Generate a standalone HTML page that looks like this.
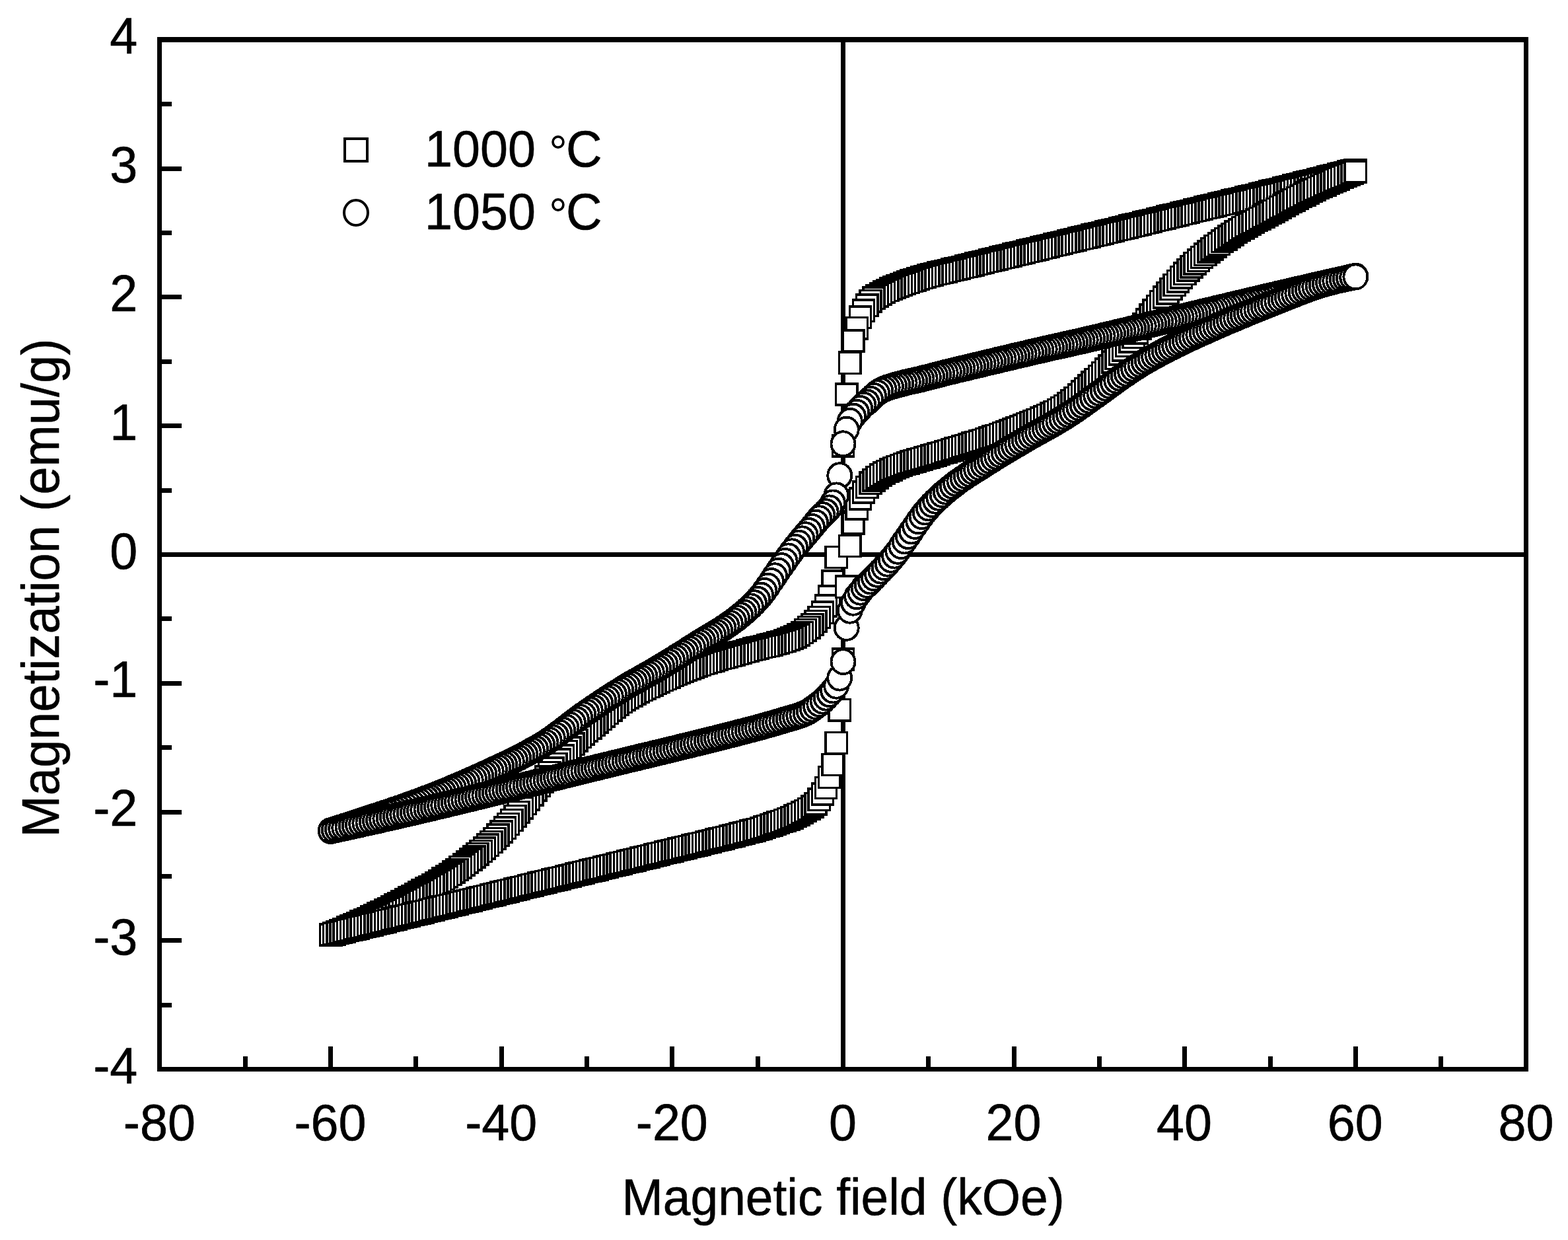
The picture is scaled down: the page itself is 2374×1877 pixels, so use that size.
<!DOCTYPE html>
<html lang="en"><head><meta charset="utf-8"><title>Magnetization vs. magnetic field</title>
<style>
html,body{margin:0;padding:0;background:#fff}
body{width:2374px;height:1877px;overflow:hidden}
svg{display:block}
text{font-family:"Liberation Sans",sans-serif;font-size:75.5px;fill:#000;stroke:#000;stroke-width:.6px;stroke-linejoin:round}
.ax{fill:#000;shape-rendering:crispEdges}
.mk{fill:#fff;stroke:#000;stroke-width:3.5}
.mc{fill:#fff;stroke:#000;stroke-width:3.9}
</style></head><body>
<svg width="2374" height="1877" viewBox="0 0 2374 1877" role="img" aria-label="Magnetization versus magnetic field hysteresis loops for samples sintered at 1000 and 1050 degrees Celsius">
<rect width="2374" height="1877" fill="#fff"/>
<defs>
<rect id="q" x="-16.15" y="-16.15" width="32.3" height="32.3"/>
<ellipse id="c" rx="18" ry="18.5"/>
</defs>
<g class="ax">
<rect x="238" y="56" width="2076" height="8"/>
<rect x="238" y="1615" width="2076" height="7"/>
<rect x="238" y="56" width="7" height="1566"/>
<rect x="2307" y="56" width="7" height="1566"/>
<rect x="1273" y="56" width="7" height="1566"/>
<rect x="238" y="836" width="2076" height="7"/>
<rect x="245" y="1518" width="15" height="7"/>
<rect x="245" y="1420" width="30" height="7"/>
<rect x="245" y="1323" width="15" height="7"/>
<rect x="245" y="1226" width="30" height="7"/>
<rect x="245" y="1128" width="15" height="7"/>
<rect x="245" y="1031" width="30" height="7"/>
<rect x="245" y="933" width="15" height="7"/>
<rect x="245" y="739" width="15" height="7"/>
<rect x="245" y="641" width="30" height="7"/>
<rect x="245" y="544" width="15" height="7"/>
<rect x="245" y="446" width="30" height="7"/>
<rect x="245" y="349" width="15" height="7"/>
<rect x="245" y="252" width="30" height="7"/>
<rect x="245" y="154" width="15" height="7"/>
<rect x="368" y="1599" width="7" height="16"/>
<rect x="497" y="1584" width="7" height="31"/>
<rect x="626" y="1599" width="7" height="16"/>
<rect x="756" y="1584" width="7" height="31"/>
<rect x="885" y="1599" width="7" height="16"/>
<rect x="1014" y="1584" width="7" height="31"/>
<rect x="1144" y="1599" width="7" height="16"/>
<rect x="1402" y="1599" width="7" height="16"/>
<rect x="1532" y="1584" width="7" height="31"/>
<rect x="1661" y="1599" width="7" height="16"/>
<rect x="1790" y="1584" width="7" height="31"/>
<rect x="1920" y="1599" width="7" height="16"/>
<rect x="2049" y="1584" width="7" height="31"/>
<rect x="2178" y="1599" width="7" height="16"/>
</g>
<text transform="translate(208.3 81.3) scale(1 1.04)" text-anchor="end">4</text>
<text transform="translate(208.3 276.1) scale(1 1.04)" text-anchor="end">3</text>
<text transform="translate(208.3 470.9) scale(1 1.04)" text-anchor="end">2</text>
<text transform="translate(208.3 665.7) scale(1 1.04)" text-anchor="end">1</text>
<text transform="translate(208.3 860.5) scale(1 1.04)" text-anchor="end">0</text>
<text transform="translate(208.3 1055.3) scale(1 1.04)" text-anchor="end">-1</text>
<text transform="translate(208.3 1250.1) scale(1 1.04)" text-anchor="end">-2</text>
<text transform="translate(208.3 1444.9) scale(1 1.04)" text-anchor="end">-3</text>
<text transform="translate(208.3 1639.7) scale(1 1.04)" text-anchor="end">-4</text>
<text transform="translate(241.4 1726.2) scale(1 1.04)" text-anchor="middle">-80</text>
<text transform="translate(500.0 1726.2) scale(1 1.04)" text-anchor="middle">-60</text>
<text transform="translate(758.7 1726.2) scale(1 1.04)" text-anchor="middle">-40</text>
<text transform="translate(1017.3 1726.2) scale(1 1.04)" text-anchor="middle">-20</text>
<text transform="translate(1275.9 1726.2) scale(1 1.04)" text-anchor="middle">0</text>
<text transform="translate(1534.5 1726.2) scale(1 1.04)" text-anchor="middle">20</text>
<text transform="translate(1793.1 1726.2) scale(1 1.04)" text-anchor="middle">40</text>
<text transform="translate(2051.8 1726.2) scale(1 1.04)" text-anchor="middle">60</text>
<text transform="translate(2310.4 1726.2) scale(1 1.04)" text-anchor="middle">80</text>
<text transform="translate(1276.5 1838.7) scale(1 1.04)" text-anchor="middle" style="font-size:74.9px">Magnetic field (kOe)</text>
<text transform="translate(89.1 890.0) rotate(-90) scale(1 1.04)" text-anchor="middle" style="font-size:75.9px">Magnetization (emu/g)</text>
<rect x="522" y="210" width="34" height="34" fill="#fff" stroke="#000" stroke-width="4" shape-rendering="crispEdges"/>
<ellipse cx="539" cy="322" rx="18" ry="19" fill="#fff" stroke="#000" stroke-width="4"/>
<text transform="translate(643.0 251.9) scale(1 1.04)">1000 <tspan x="188.1" dy="2.8" font-size="70" stroke="none">°</tspan><tspan x="214" dy="-2.8">C</tspan></text>
<text transform="translate(643.0 347.3) scale(1 1.04)">1050 <tspan x="188.1" dy="2.8" font-size="70" stroke="none">°</tspan><tspan x="214" dy="-2.8">C</tspan></text>
<g class="mk" shape-rendering="crispEdges">
<use href="#q" x="2052.4" y="257.4"/>
<use href="#q" x="2047.2" y="258.8"/>
<use href="#q" x="2042" y="260.1"/>
<use href="#q" x="2036.8" y="261.5"/>
<use href="#q" x="2031.7" y="262.8"/>
<use href="#q" x="2026.5" y="264.1"/>
<use href="#q" x="2021.3" y="265.5"/>
<use href="#q" x="2016.2" y="266.8"/>
<use href="#q" x="2011" y="268.2"/>
<use href="#q" x="2005.8" y="269.5"/>
<use href="#q" x="2000.6" y="270.8"/>
<use href="#q" x="1995.5" y="272.1"/>
<use href="#q" x="1990.3" y="273.5"/>
<use href="#q" x="1985.1" y="274.8"/>
<use href="#q" x="1979.9" y="276.1"/>
<use href="#q" x="1974.8" y="277.4"/>
<use href="#q" x="1969.6" y="278.7"/>
<use href="#q" x="1964.4" y="280"/>
<use href="#q" x="1959.3" y="281.3"/>
<use href="#q" x="1954.1" y="282.6"/>
<use href="#q" x="1948.9" y="284"/>
<use href="#q" x="1943.7" y="285.3"/>
<use href="#q" x="1938.6" y="286.5"/>
<use href="#q" x="1933.4" y="287.8"/>
<use href="#q" x="1928.2" y="289.1"/>
<use href="#q" x="1923" y="290.4"/>
<use href="#q" x="1917.9" y="291.7"/>
<use href="#q" x="1912.7" y="293"/>
<use href="#q" x="1907.5" y="294.3"/>
<use href="#q" x="1902.4" y="295.5"/>
<use href="#q" x="1897.2" y="296.8"/>
<use href="#q" x="1892" y="298.1"/>
<use href="#q" x="1886.8" y="299.3"/>
<use href="#q" x="1881.7" y="300.6"/>
<use href="#q" x="1876.5" y="301.8"/>
<use href="#q" x="1871.3" y="303.1"/>
<use href="#q" x="1866.2" y="304.4"/>
<use href="#q" x="1861" y="305.6"/>
<use href="#q" x="1855.8" y="306.9"/>
<use href="#q" x="1850.6" y="308.1"/>
<use href="#q" x="1845.5" y="309.4"/>
<use href="#q" x="1840.3" y="310.6"/>
<use href="#q" x="1835.1" y="311.9"/>
<use href="#q" x="1829.9" y="313.1"/>
<use href="#q" x="1824.8" y="314.4"/>
<use href="#q" x="1819.6" y="315.7"/>
<use href="#q" x="1814.4" y="316.9"/>
<use href="#q" x="1809.3" y="318.2"/>
<use href="#q" x="1804.1" y="319.5"/>
<use href="#q" x="1798.9" y="320.8"/>
<use href="#q" x="1793.7" y="322"/>
<use href="#q" x="1788.6" y="323.3"/>
<use href="#q" x="1783.4" y="324.6"/>
<use href="#q" x="1778.2" y="325.8"/>
<use href="#q" x="1773.1" y="327.1"/>
<use href="#q" x="1767.9" y="328.4"/>
<use href="#q" x="1762.7" y="329.7"/>
<use href="#q" x="1757.5" y="330.9"/>
<use href="#q" x="1752.4" y="332.2"/>
<use href="#q" x="1747.2" y="333.5"/>
<use href="#q" x="1742" y="334.7"/>
<use href="#q" x="1736.8" y="336"/>
<use href="#q" x="1731.7" y="337.3"/>
<use href="#q" x="1726.5" y="338.6"/>
<use href="#q" x="1721.3" y="339.8"/>
<use href="#q" x="1716.2" y="341.1"/>
<use href="#q" x="1711" y="342.4"/>
<use href="#q" x="1705.8" y="343.7"/>
<use href="#q" x="1700.6" y="344.9"/>
<use href="#q" x="1695.5" y="346.2"/>
<use href="#q" x="1690.3" y="347.5"/>
<use href="#q" x="1685.1" y="348.7"/>
<use href="#q" x="1679.9" y="350"/>
<use href="#q" x="1674.8" y="351.3"/>
<use href="#q" x="1669.6" y="352.6"/>
<use href="#q" x="1664.4" y="353.8"/>
<use href="#q" x="1659.3" y="355.1"/>
<use href="#q" x="1654.1" y="356.4"/>
<use href="#q" x="1648.9" y="357.6"/>
<use href="#q" x="1643.7" y="358.9"/>
<use href="#q" x="1638.6" y="360.2"/>
<use href="#q" x="1633.4" y="361.4"/>
<use href="#q" x="1628.2" y="362.7"/>
<use href="#q" x="1623.1" y="364"/>
<use href="#q" x="1617.9" y="365.2"/>
<use href="#q" x="1612.7" y="366.5"/>
<use href="#q" x="1607.5" y="367.7"/>
<use href="#q" x="1602.4" y="369"/>
<use href="#q" x="1597.2" y="370.3"/>
<use href="#q" x="1592" y="371.5"/>
<use href="#q" x="1586.8" y="372.8"/>
<use href="#q" x="1581.7" y="374"/>
<use href="#q" x="1576.5" y="375.3"/>
<use href="#q" x="1571.3" y="376.6"/>
<use href="#q" x="1566.2" y="377.8"/>
<use href="#q" x="1561" y="379.1"/>
<use href="#q" x="1555.8" y="380.3"/>
<use href="#q" x="1550.6" y="381.6"/>
<use href="#q" x="1545.5" y="382.9"/>
<use href="#q" x="1540.3" y="384.1"/>
<use href="#q" x="1535.1" y="385.4"/>
<use href="#q" x="1529.9" y="386.6"/>
<use href="#q" x="1524.8" y="387.9"/>
<use href="#q" x="1519.6" y="389.2"/>
<use href="#q" x="1514.4" y="390.4"/>
<use href="#q" x="1509.3" y="391.7"/>
<use href="#q" x="1504.1" y="393"/>
<use href="#q" x="1498.9" y="394.2"/>
<use href="#q" x="1493.7" y="395.5"/>
<use href="#q" x="1488.6" y="396.8"/>
<use href="#q" x="1483.4" y="398"/>
<use href="#q" x="1478.2" y="399.3"/>
<use href="#q" x="1473.1" y="400.6"/>
<use href="#q" x="1467.9" y="401.8"/>
<use href="#q" x="1462.7" y="403.1"/>
<use href="#q" x="1457.5" y="404.4"/>
<use href="#q" x="1452.4" y="405.6"/>
<use href="#q" x="1447.2" y="406.9"/>
<use href="#q" x="1442" y="408.2"/>
<use href="#q" x="1436.8" y="409.4"/>
<use href="#q" x="1431.7" y="410.7"/>
<use href="#q" x="1426.5" y="411.9"/>
<use href="#q" x="1421.3" y="413.1"/>
<use href="#q" x="1416.2" y="414.4"/>
<use href="#q" x="1411" y="415.7"/>
<use href="#q" x="1405.8" y="417.1"/>
<use href="#q" x="1400.6" y="418.6"/>
<use href="#q" x="1395.5" y="420.2"/>
<use href="#q" x="1390.3" y="421.8"/>
<use href="#q" x="1385.1" y="423.6"/>
<use href="#q" x="1379.9" y="425.3"/>
<use href="#q" x="1374.8" y="427.1"/>
<use href="#q" x="1369.6" y="428.9"/>
<use href="#q" x="1364.4" y="430.7"/>
<use href="#q" x="1359.3" y="432.6"/>
<use href="#q" x="1354.1" y="434.7"/>
<use href="#q" x="1348.9" y="437"/>
<use href="#q" x="1343.7" y="439.4"/>
<use href="#q" x="1338.6" y="442"/>
<use href="#q" x="1333.4" y="444.7"/>
<use href="#q" x="1328.2" y="447.7"/>
<use href="#q" x="1323.1" y="451.3"/>
<use href="#q" x="1317.9" y="455.7"/>
<use href="#q" x="1312.7" y="462.2"/>
<use href="#q" x="1307.5" y="470.3"/>
<use href="#q" x="1302.4" y="480.1"/>
<use href="#q" x="1297.2" y="496.6"/>
<use href="#q" x="1292" y="516.1"/>
<use href="#q" x="1286.8" y="549.2"/>
<use href="#q" x="1281.7" y="597"/>
<use href="#q" x="1276.5" y="674.7"/>
<use href="#q" x="1271.3" y="757.7"/>
<use href="#q" x="1266.2" y="843.4"/>
<use href="#q" x="1261" y="880"/>
<use href="#q" x="1255.8" y="903"/>
<use href="#q" x="1250.6" y="917"/>
<use href="#q" x="1245.5" y="927.2"/>
<use href="#q" x="1240.3" y="934.6"/>
<use href="#q" x="1235.1" y="940.6"/>
<use href="#q" x="1229.9" y="945.5"/>
<use href="#q" x="1224.8" y="949.7"/>
<use href="#q" x="1219.6" y="953.8"/>
<use href="#q" x="1214.4" y="957.6"/>
<use href="#q" x="1209.3" y="961"/>
<use href="#q" x="1204.1" y="963.8"/>
<use href="#q" x="1198.9" y="966"/>
<use href="#q" x="1193.7" y="968"/>
<use href="#q" x="1188.6" y="969.9"/>
<use href="#q" x="1183.4" y="971.5"/>
<use href="#q" x="1178.2" y="973.1"/>
<use href="#q" x="1173.1" y="974.5"/>
<use href="#q" x="1167.9" y="975.9"/>
<use href="#q" x="1162.7" y="977.2"/>
<use href="#q" x="1157.5" y="978.4"/>
<use href="#q" x="1152.4" y="979.6"/>
<use href="#q" x="1147.2" y="980.9"/>
<use href="#q" x="1142" y="982.2"/>
<use href="#q" x="1136.8" y="983.5"/>
<use href="#q" x="1131.7" y="984.9"/>
<use href="#q" x="1126.5" y="986.4"/>
<use href="#q" x="1121.3" y="987.9"/>
<use href="#q" x="1116.2" y="989.3"/>
<use href="#q" x="1111" y="990.8"/>
<use href="#q" x="1105.8" y="992.2"/>
<use href="#q" x="1100.6" y="993.7"/>
<use href="#q" x="1095.5" y="995.2"/>
<use href="#q" x="1090.3" y="996.6"/>
<use href="#q" x="1085.1" y="998.1"/>
<use href="#q" x="1079.9" y="999.7"/>
<use href="#q" x="1074.8" y="1001.2"/>
<use href="#q" x="1069.6" y="1002.8"/>
<use href="#q" x="1064.4" y="1004.5"/>
<use href="#q" x="1059.3" y="1006.2"/>
<use href="#q" x="1054.1" y="1008"/>
<use href="#q" x="1048.9" y="1009.9"/>
<use href="#q" x="1043.7" y="1011.8"/>
<use href="#q" x="1038.6" y="1013.8"/>
<use href="#q" x="1033.4" y="1015.9"/>
<use href="#q" x="1028.2" y="1018.1"/>
<use href="#q" x="1023.1" y="1020.3"/>
<use href="#q" x="1017.9" y="1022.5"/>
<use href="#q" x="1012.7" y="1024.9"/>
<use href="#q" x="1007.5" y="1027.2"/>
<use href="#q" x="1002.4" y="1029.6"/>
<use href="#q" x="997.2" y="1032"/>
<use href="#q" x="992" y="1034.4"/>
<use href="#q" x="986.8" y="1036.8"/>
<use href="#q" x="981.7" y="1039.3"/>
<use href="#q" x="976.5" y="1041.8"/>
<use href="#q" x="971.3" y="1044.4"/>
<use href="#q" x="966.2" y="1047"/>
<use href="#q" x="961" y="1049.8"/>
<use href="#q" x="955.8" y="1052.7"/>
<use href="#q" x="950.6" y="1055.7"/>
<use href="#q" x="945.5" y="1058.9"/>
<use href="#q" x="940.3" y="1062.4"/>
<use href="#q" x="935.1" y="1066.2"/>
<use href="#q" x="929.9" y="1070.4"/>
<use href="#q" x="924.8" y="1074.8"/>
<use href="#q" x="919.6" y="1079.4"/>
<use href="#q" x="914.4" y="1084"/>
<use href="#q" x="909.3" y="1088.6"/>
<use href="#q" x="904.1" y="1093"/>
<use href="#q" x="898.9" y="1097.4"/>
<use href="#q" x="893.7" y="1101.7"/>
<use href="#q" x="888.6" y="1106.1"/>
<use href="#q" x="883.4" y="1110.7"/>
<use href="#q" x="878.2" y="1115.5"/>
<use href="#q" x="873.1" y="1120.7"/>
<use href="#q" x="867.9" y="1126.2"/>
<use href="#q" x="862.7" y="1131.9"/>
<use href="#q" x="857.5" y="1137.8"/>
<use href="#q" x="852.4" y="1144"/>
<use href="#q" x="847.2" y="1150.3"/>
<use href="#q" x="842" y="1156.7"/>
<use href="#q" x="836.8" y="1163.2"/>
<use href="#q" x="831.7" y="1169.7"/>
<use href="#q" x="826.5" y="1176.2"/>
<use href="#q" x="821.3" y="1182.7"/>
<use href="#q" x="816.2" y="1189.2"/>
<use href="#q" x="811" y="1195.9"/>
<use href="#q" x="805.8" y="1202.8"/>
<use href="#q" x="800.6" y="1209.7"/>
<use href="#q" x="795.5" y="1216.5"/>
<use href="#q" x="790.3" y="1223.1"/>
<use href="#q" x="785.1" y="1229.5"/>
<use href="#q" x="779.9" y="1235.6"/>
<use href="#q" x="774.8" y="1241.6"/>
<use href="#q" x="769.6" y="1247.5"/>
<use href="#q" x="764.4" y="1253.3"/>
<use href="#q" x="759.3" y="1258.9"/>
<use href="#q" x="754.1" y="1264.3"/>
<use href="#q" x="748.9" y="1269.5"/>
<use href="#q" x="743.7" y="1274.4"/>
<use href="#q" x="738.6" y="1279.2"/>
<use href="#q" x="733.4" y="1283.9"/>
<use href="#q" x="728.2" y="1288.4"/>
<use href="#q" x="723.1" y="1292.8"/>
<use href="#q" x="717.9" y="1297"/>
<use href="#q" x="712.7" y="1301.1"/>
<use href="#q" x="707.5" y="1305.1"/>
<use href="#q" x="702.4" y="1309"/>
<use href="#q" x="697.2" y="1312.8"/>
<use href="#q" x="692" y="1316.5"/>
<use href="#q" x="686.8" y="1320.1"/>
<use href="#q" x="681.7" y="1323.6"/>
<use href="#q" x="676.5" y="1327"/>
<use href="#q" x="671.3" y="1330.3"/>
<use href="#q" x="666.2" y="1333.4"/>
<use href="#q" x="661" y="1336.5"/>
<use href="#q" x="655.8" y="1339.5"/>
<use href="#q" x="650.6" y="1342.4"/>
<use href="#q" x="645.5" y="1345.2"/>
<use href="#q" x="640.3" y="1348.1"/>
<use href="#q" x="635.1" y="1350.9"/>
<use href="#q" x="630" y="1353.7"/>
<use href="#q" x="624.8" y="1356.5"/>
<use href="#q" x="619.6" y="1359.3"/>
<use href="#q" x="614.4" y="1362"/>
<use href="#q" x="609.3" y="1364.8"/>
<use href="#q" x="604.1" y="1367.5"/>
<use href="#q" x="598.9" y="1370.2"/>
<use href="#q" x="593.7" y="1372.9"/>
<use href="#q" x="588.6" y="1375.5"/>
<use href="#q" x="583.4" y="1378.1"/>
<use href="#q" x="578.2" y="1380.7"/>
<use href="#q" x="573.1" y="1383.2"/>
<use href="#q" x="567.9" y="1385.7"/>
<use href="#q" x="562.7" y="1388.1"/>
<use href="#q" x="557.5" y="1390.5"/>
<use href="#q" x="552.4" y="1392.9"/>
<use href="#q" x="547.2" y="1395.3"/>
<use href="#q" x="542" y="1397.6"/>
<use href="#q" x="536.8" y="1399.9"/>
<use href="#q" x="531.7" y="1402.1"/>
<use href="#q" x="526.5" y="1404.3"/>
<use href="#q" x="521.3" y="1406.5"/>
<use href="#q" x="516.2" y="1408.7"/>
<use href="#q" x="511" y="1410.8"/>
<use href="#q" x="505.8" y="1412.9"/>
<use href="#q" x="500.6" y="1415"/>
<use href="#q" x="500.6" y="1415"/>
<use href="#q" x="505.8" y="1413.7"/>
<use href="#q" x="511" y="1412.4"/>
<use href="#q" x="516.2" y="1411.2"/>
<use href="#q" x="521.3" y="1409.9"/>
<use href="#q" x="526.5" y="1408.6"/>
<use href="#q" x="531.7" y="1407.4"/>
<use href="#q" x="536.8" y="1406.1"/>
<use href="#q" x="542" y="1404.8"/>
<use href="#q" x="547.2" y="1403.6"/>
<use href="#q" x="552.4" y="1402.3"/>
<use href="#q" x="557.5" y="1401"/>
<use href="#q" x="562.7" y="1399.8"/>
<use href="#q" x="567.9" y="1398.5"/>
<use href="#q" x="573.1" y="1397.2"/>
<use href="#q" x="578.2" y="1395.9"/>
<use href="#q" x="583.4" y="1394.7"/>
<use href="#q" x="588.6" y="1393.4"/>
<use href="#q" x="593.7" y="1392.1"/>
<use href="#q" x="598.9" y="1390.9"/>
<use href="#q" x="604.1" y="1389.6"/>
<use href="#q" x="609.3" y="1388.3"/>
<use href="#q" x="614.4" y="1387"/>
<use href="#q" x="619.6" y="1385.8"/>
<use href="#q" x="624.8" y="1384.5"/>
<use href="#q" x="630" y="1383.2"/>
<use href="#q" x="635.1" y="1381.9"/>
<use href="#q" x="640.3" y="1380.7"/>
<use href="#q" x="645.5" y="1379.4"/>
<use href="#q" x="650.6" y="1378.1"/>
<use href="#q" x="655.8" y="1376.8"/>
<use href="#q" x="661" y="1375.6"/>
<use href="#q" x="666.2" y="1374.3"/>
<use href="#q" x="671.3" y="1373"/>
<use href="#q" x="676.5" y="1371.7"/>
<use href="#q" x="681.7" y="1370.4"/>
<use href="#q" x="686.8" y="1369.2"/>
<use href="#q" x="692" y="1367.9"/>
<use href="#q" x="697.2" y="1366.6"/>
<use href="#q" x="702.4" y="1365.3"/>
<use href="#q" x="707.5" y="1364"/>
<use href="#q" x="712.7" y="1362.8"/>
<use href="#q" x="717.9" y="1361.5"/>
<use href="#q" x="723.1" y="1360.2"/>
<use href="#q" x="728.2" y="1358.9"/>
<use href="#q" x="733.4" y="1357.6"/>
<use href="#q" x="738.6" y="1356.4"/>
<use href="#q" x="743.7" y="1355.1"/>
<use href="#q" x="748.9" y="1353.8"/>
<use href="#q" x="754.1" y="1352.5"/>
<use href="#q" x="759.3" y="1351.3"/>
<use href="#q" x="764.4" y="1350"/>
<use href="#q" x="769.6" y="1348.7"/>
<use href="#q" x="774.8" y="1347.4"/>
<use href="#q" x="779.9" y="1346.2"/>
<use href="#q" x="785.1" y="1344.9"/>
<use href="#q" x="790.3" y="1343.6"/>
<use href="#q" x="795.5" y="1342.4"/>
<use href="#q" x="800.6" y="1341.1"/>
<use href="#q" x="805.8" y="1339.8"/>
<use href="#q" x="811" y="1338.6"/>
<use href="#q" x="816.2" y="1337.3"/>
<use href="#q" x="821.3" y="1336"/>
<use href="#q" x="826.5" y="1334.7"/>
<use href="#q" x="831.7" y="1333.5"/>
<use href="#q" x="836.8" y="1332.2"/>
<use href="#q" x="842" y="1330.9"/>
<use href="#q" x="847.2" y="1329.7"/>
<use href="#q" x="852.4" y="1328.4"/>
<use href="#q" x="857.5" y="1327.1"/>
<use href="#q" x="862.7" y="1325.9"/>
<use href="#q" x="867.9" y="1324.6"/>
<use href="#q" x="873.1" y="1323.3"/>
<use href="#q" x="878.2" y="1322.1"/>
<use href="#q" x="883.4" y="1320.8"/>
<use href="#q" x="888.6" y="1319.5"/>
<use href="#q" x="893.7" y="1318.2"/>
<use href="#q" x="898.9" y="1317"/>
<use href="#q" x="904.1" y="1315.7"/>
<use href="#q" x="909.3" y="1314.4"/>
<use href="#q" x="914.4" y="1313.2"/>
<use href="#q" x="919.6" y="1311.9"/>
<use href="#q" x="924.8" y="1310.6"/>
<use href="#q" x="929.9" y="1309.4"/>
<use href="#q" x="935.1" y="1308.1"/>
<use href="#q" x="940.3" y="1306.8"/>
<use href="#q" x="945.5" y="1305.5"/>
<use href="#q" x="950.6" y="1304.3"/>
<use href="#q" x="955.8" y="1303"/>
<use href="#q" x="961" y="1301.7"/>
<use href="#q" x="966.2" y="1300.5"/>
<use href="#q" x="971.3" y="1299.2"/>
<use href="#q" x="976.5" y="1297.9"/>
<use href="#q" x="981.7" y="1296.7"/>
<use href="#q" x="986.8" y="1295.4"/>
<use href="#q" x="992" y="1294.1"/>
<use href="#q" x="997.2" y="1292.8"/>
<use href="#q" x="1002.4" y="1291.6"/>
<use href="#q" x="1007.5" y="1290.3"/>
<use href="#q" x="1012.7" y="1289"/>
<use href="#q" x="1017.9" y="1287.8"/>
<use href="#q" x="1023.1" y="1286.5"/>
<use href="#q" x="1028.2" y="1285.2"/>
<use href="#q" x="1033.4" y="1284"/>
<use href="#q" x="1038.6" y="1282.7"/>
<use href="#q" x="1043.7" y="1281.4"/>
<use href="#q" x="1048.9" y="1280.2"/>
<use href="#q" x="1054.1" y="1278.9"/>
<use href="#q" x="1059.3" y="1277.7"/>
<use href="#q" x="1064.4" y="1276.4"/>
<use href="#q" x="1069.6" y="1275.1"/>
<use href="#q" x="1074.8" y="1273.9"/>
<use href="#q" x="1079.9" y="1272.6"/>
<use href="#q" x="1085.1" y="1271.3"/>
<use href="#q" x="1090.3" y="1270"/>
<use href="#q" x="1095.5" y="1268.8"/>
<use href="#q" x="1100.6" y="1267.5"/>
<use href="#q" x="1105.8" y="1266.2"/>
<use href="#q" x="1111" y="1264.9"/>
<use href="#q" x="1116.2" y="1263.5"/>
<use href="#q" x="1121.3" y="1262.2"/>
<use href="#q" x="1126.5" y="1260.9"/>
<use href="#q" x="1131.7" y="1259.6"/>
<use href="#q" x="1136.8" y="1258.3"/>
<use href="#q" x="1142" y="1256.9"/>
<use href="#q" x="1147.2" y="1255.4"/>
<use href="#q" x="1152.4" y="1253.9"/>
<use href="#q" x="1157.5" y="1252.2"/>
<use href="#q" x="1162.7" y="1250.5"/>
<use href="#q" x="1167.9" y="1248.8"/>
<use href="#q" x="1173.1" y="1247"/>
<use href="#q" x="1178.2" y="1245.3"/>
<use href="#q" x="1183.4" y="1243.5"/>
<use href="#q" x="1188.6" y="1241.7"/>
<use href="#q" x="1193.7" y="1239.8"/>
<use href="#q" x="1198.9" y="1237.7"/>
<use href="#q" x="1204.1" y="1235.3"/>
<use href="#q" x="1209.3" y="1232.8"/>
<use href="#q" x="1214.4" y="1230.1"/>
<use href="#q" x="1219.6" y="1227.5"/>
<use href="#q" x="1224.8" y="1224.4"/>
<use href="#q" x="1229.9" y="1221"/>
<use href="#q" x="1235.1" y="1216.7"/>
<use href="#q" x="1240.3" y="1210.2"/>
<use href="#q" x="1245.5" y="1202"/>
<use href="#q" x="1250.6" y="1192.5"/>
<use href="#q" x="1255.8" y="1176.5"/>
<use href="#q" x="1261" y="1157.4"/>
<use href="#q" x="1266.2" y="1124.5"/>
<use href="#q" x="1271.3" y="1074.8"/>
<use href="#q" x="1276.5" y="998.1"/>
<use href="#q" x="1281.7" y="888.2"/>
<use href="#q" x="1286.8" y="826.6"/>
<use href="#q" x="1292" y="792"/>
<use href="#q" x="1297.2" y="769.8"/>
<use href="#q" x="1302.4" y="755.1"/>
<use href="#q" x="1307.5" y="745"/>
<use href="#q" x="1312.7" y="737.4"/>
<use href="#q" x="1317.9" y="731.2"/>
<use href="#q" x="1323.1" y="726.8"/>
<use href="#q" x="1328.2" y="722.8"/>
<use href="#q" x="1333.4" y="719.3"/>
<use href="#q" x="1338.6" y="716.2"/>
<use href="#q" x="1343.7" y="713.4"/>
<use href="#q" x="1348.9" y="710.9"/>
<use href="#q" x="1354.1" y="708.6"/>
<use href="#q" x="1359.3" y="706.5"/>
<use href="#q" x="1364.4" y="704.5"/>
<use href="#q" x="1369.6" y="702.6"/>
<use href="#q" x="1374.8" y="700.9"/>
<use href="#q" x="1379.9" y="699.2"/>
<use href="#q" x="1385.1" y="697.7"/>
<use href="#q" x="1390.3" y="696.2"/>
<use href="#q" x="1395.5" y="694.7"/>
<use href="#q" x="1400.6" y="693.2"/>
<use href="#q" x="1405.8" y="691.7"/>
<use href="#q" x="1411" y="690.3"/>
<use href="#q" x="1416.2" y="688.8"/>
<use href="#q" x="1421.3" y="687.2"/>
<use href="#q" x="1426.5" y="685.6"/>
<use href="#q" x="1431.7" y="683.9"/>
<use href="#q" x="1436.8" y="682.4"/>
<use href="#q" x="1442" y="680.8"/>
<use href="#q" x="1447.2" y="679.2"/>
<use href="#q" x="1452.4" y="677.6"/>
<use href="#q" x="1457.5" y="676.1"/>
<use href="#q" x="1462.7" y="674.5"/>
<use href="#q" x="1467.9" y="672.9"/>
<use href="#q" x="1473.1" y="671.3"/>
<use href="#q" x="1478.2" y="669.7"/>
<use href="#q" x="1483.4" y="668.1"/>
<use href="#q" x="1488.6" y="666.4"/>
<use href="#q" x="1493.7" y="664.7"/>
<use href="#q" x="1498.9" y="663"/>
<use href="#q" x="1504.1" y="661.2"/>
<use href="#q" x="1509.3" y="659.4"/>
<use href="#q" x="1514.4" y="657.6"/>
<use href="#q" x="1519.6" y="655.8"/>
<use href="#q" x="1524.8" y="653.9"/>
<use href="#q" x="1529.9" y="652"/>
<use href="#q" x="1535.1" y="650.1"/>
<use href="#q" x="1540.3" y="648.1"/>
<use href="#q" x="1545.5" y="646"/>
<use href="#q" x="1550.6" y="644"/>
<use href="#q" x="1555.8" y="641.8"/>
<use href="#q" x="1561" y="639.7"/>
<use href="#q" x="1566.2" y="637.5"/>
<use href="#q" x="1571.3" y="635.4"/>
<use href="#q" x="1576.5" y="633.1"/>
<use href="#q" x="1581.7" y="630.9"/>
<use href="#q" x="1586.8" y="628.5"/>
<use href="#q" x="1592" y="626"/>
<use href="#q" x="1597.2" y="623.4"/>
<use href="#q" x="1602.4" y="620.6"/>
<use href="#q" x="1607.5" y="617.6"/>
<use href="#q" x="1612.7" y="614.4"/>
<use href="#q" x="1617.9" y="610.8"/>
<use href="#q" x="1623.1" y="606.7"/>
<use href="#q" x="1628.2" y="602.4"/>
<use href="#q" x="1633.4" y="597.9"/>
<use href="#q" x="1638.6" y="593.2"/>
<use href="#q" x="1643.7" y="588.6"/>
<use href="#q" x="1648.9" y="583.9"/>
<use href="#q" x="1654.1" y="579.3"/>
<use href="#q" x="1659.3" y="574.5"/>
<use href="#q" x="1664.4" y="569.6"/>
<use href="#q" x="1669.6" y="564.6"/>
<use href="#q" x="1674.8" y="559.3"/>
<use href="#q" x="1679.9" y="553.9"/>
<use href="#q" x="1685.1" y="548.1"/>
<use href="#q" x="1690.3" y="542.2"/>
<use href="#q" x="1695.5" y="536"/>
<use href="#q" x="1700.6" y="529.7"/>
<use href="#q" x="1705.8" y="523.3"/>
<use href="#q" x="1711" y="516.8"/>
<use href="#q" x="1716.2" y="510.2"/>
<use href="#q" x="1721.3" y="503.6"/>
<use href="#q" x="1726.5" y="497"/>
<use href="#q" x="1731.7" y="490.5"/>
<use href="#q" x="1736.8" y="483.9"/>
<use href="#q" x="1742" y="477.1"/>
<use href="#q" x="1747.2" y="470.3"/>
<use href="#q" x="1752.4" y="463.4"/>
<use href="#q" x="1757.5" y="456.6"/>
<use href="#q" x="1762.7" y="450"/>
<use href="#q" x="1767.9" y="443.6"/>
<use href="#q" x="1773.1" y="437.5"/>
<use href="#q" x="1778.2" y="431.5"/>
<use href="#q" x="1783.4" y="425.6"/>
<use href="#q" x="1788.6" y="419.8"/>
<use href="#q" x="1793.7" y="414.2"/>
<use href="#q" x="1798.9" y="408.8"/>
<use href="#q" x="1804.1" y="403.7"/>
<use href="#q" x="1809.3" y="398.8"/>
<use href="#q" x="1814.4" y="394.1"/>
<use href="#q" x="1819.6" y="389.5"/>
<use href="#q" x="1824.8" y="385.2"/>
<use href="#q" x="1829.9" y="381"/>
<use href="#q" x="1835.1" y="376.9"/>
<use href="#q" x="1840.3" y="372.9"/>
<use href="#q" x="1845.5" y="369.1"/>
<use href="#q" x="1850.6" y="365.3"/>
<use href="#q" x="1855.8" y="361.6"/>
<use href="#q" x="1861" y="358.1"/>
<use href="#q" x="1866.2" y="354.6"/>
<use href="#q" x="1871.3" y="351.3"/>
<use href="#q" x="1876.5" y="348"/>
<use href="#q" x="1881.7" y="344.9"/>
<use href="#q" x="1886.8" y="341.9"/>
<use href="#q" x="1892" y="339"/>
<use href="#q" x="1897.2" y="336.2"/>
<use href="#q" x="1902.4" y="333.4"/>
<use href="#q" x="1907.5" y="330.7"/>
<use href="#q" x="1912.7" y="328"/>
<use href="#q" x="1917.9" y="325.2"/>
<use href="#q" x="1923" y="322.4"/>
<use href="#q" x="1928.2" y="319.6"/>
<use href="#q" x="1933.4" y="316.8"/>
<use href="#q" x="1938.6" y="313.9"/>
<use href="#q" x="1943.7" y="311.1"/>
<use href="#q" x="1948.9" y="308.3"/>
<use href="#q" x="1954.1" y="305.5"/>
<use href="#q" x="1959.3" y="302.7"/>
<use href="#q" x="1964.4" y="299.9"/>
<use href="#q" x="1969.6" y="297.2"/>
<use href="#q" x="1974.8" y="294.6"/>
<use href="#q" x="1979.9" y="292"/>
<use href="#q" x="1985.1" y="289.4"/>
<use href="#q" x="1990.3" y="287"/>
<use href="#q" x="1995.5" y="284.5"/>
<use href="#q" x="2000.6" y="282.1"/>
<use href="#q" x="2005.8" y="279.7"/>
<use href="#q" x="2011" y="277.4"/>
<use href="#q" x="2016.2" y="275.1"/>
<use href="#q" x="2021.3" y="272.8"/>
<use href="#q" x="2026.5" y="270.6"/>
<use href="#q" x="2031.7" y="268.4"/>
<use href="#q" x="2036.8" y="266.2"/>
<use href="#q" x="2042" y="264.1"/>
<use href="#q" x="2047.2" y="262"/>
<use href="#q" x="2052.4" y="259.9"/>
</g>
<g class="mc" shape-rendering="crispEdges">
<use href="#c" x="2052.4" y="418.1"/>
<use href="#c" x="2047.2" y="419.3"/>
<use href="#c" x="2042" y="420.5"/>
<use href="#c" x="2036.8" y="421.7"/>
<use href="#c" x="2031.7" y="422.8"/>
<use href="#c" x="2026.5" y="424"/>
<use href="#c" x="2021.3" y="425.2"/>
<use href="#c" x="2016.2" y="426.4"/>
<use href="#c" x="2011" y="427.6"/>
<use href="#c" x="2005.8" y="428.7"/>
<use href="#c" x="2000.6" y="429.9"/>
<use href="#c" x="1995.5" y="431.1"/>
<use href="#c" x="1990.3" y="432.3"/>
<use href="#c" x="1985.1" y="433.5"/>
<use href="#c" x="1979.9" y="434.7"/>
<use href="#c" x="1974.8" y="435.9"/>
<use href="#c" x="1969.6" y="437.1"/>
<use href="#c" x="1964.4" y="438.3"/>
<use href="#c" x="1959.3" y="439.5"/>
<use href="#c" x="1954.1" y="440.7"/>
<use href="#c" x="1948.9" y="441.9"/>
<use href="#c" x="1943.7" y="443.1"/>
<use href="#c" x="1938.6" y="444.3"/>
<use href="#c" x="1933.4" y="445.5"/>
<use href="#c" x="1928.2" y="446.7"/>
<use href="#c" x="1923" y="447.9"/>
<use href="#c" x="1917.9" y="449.1"/>
<use href="#c" x="1912.7" y="450.4"/>
<use href="#c" x="1907.5" y="451.6"/>
<use href="#c" x="1902.4" y="452.8"/>
<use href="#c" x="1897.2" y="454"/>
<use href="#c" x="1892" y="455.2"/>
<use href="#c" x="1886.8" y="456.5"/>
<use href="#c" x="1881.7" y="457.7"/>
<use href="#c" x="1876.5" y="458.9"/>
<use href="#c" x="1871.3" y="460.2"/>
<use href="#c" x="1866.2" y="461.4"/>
<use href="#c" x="1861" y="462.6"/>
<use href="#c" x="1855.8" y="463.9"/>
<use href="#c" x="1850.6" y="465.1"/>
<use href="#c" x="1845.5" y="466.3"/>
<use href="#c" x="1840.3" y="467.6"/>
<use href="#c" x="1835.1" y="468.8"/>
<use href="#c" x="1829.9" y="470.1"/>
<use href="#c" x="1824.8" y="471.3"/>
<use href="#c" x="1819.6" y="472.5"/>
<use href="#c" x="1814.4" y="473.8"/>
<use href="#c" x="1809.3" y="475"/>
<use href="#c" x="1804.1" y="476.2"/>
<use href="#c" x="1798.9" y="477.5"/>
<use href="#c" x="1793.7" y="478.7"/>
<use href="#c" x="1788.6" y="479.9"/>
<use href="#c" x="1783.4" y="481.2"/>
<use href="#c" x="1778.2" y="482.4"/>
<use href="#c" x="1773.1" y="483.7"/>
<use href="#c" x="1767.9" y="484.9"/>
<use href="#c" x="1762.7" y="486.2"/>
<use href="#c" x="1757.5" y="487.4"/>
<use href="#c" x="1752.4" y="488.7"/>
<use href="#c" x="1747.2" y="489.9"/>
<use href="#c" x="1742" y="491.2"/>
<use href="#c" x="1736.8" y="492.4"/>
<use href="#c" x="1731.7" y="493.7"/>
<use href="#c" x="1726.5" y="494.9"/>
<use href="#c" x="1721.3" y="496.2"/>
<use href="#c" x="1716.2" y="497.4"/>
<use href="#c" x="1711" y="498.6"/>
<use href="#c" x="1705.8" y="499.9"/>
<use href="#c" x="1700.6" y="501.1"/>
<use href="#c" x="1695.5" y="502.4"/>
<use href="#c" x="1690.3" y="503.6"/>
<use href="#c" x="1685.1" y="504.8"/>
<use href="#c" x="1679.9" y="506.1"/>
<use href="#c" x="1674.8" y="507.3"/>
<use href="#c" x="1669.6" y="508.5"/>
<use href="#c" x="1664.4" y="509.8"/>
<use href="#c" x="1659.3" y="511"/>
<use href="#c" x="1654.1" y="512.2"/>
<use href="#c" x="1648.9" y="513.4"/>
<use href="#c" x="1643.7" y="514.6"/>
<use href="#c" x="1638.6" y="515.8"/>
<use href="#c" x="1633.4" y="517"/>
<use href="#c" x="1628.2" y="518.1"/>
<use href="#c" x="1623.1" y="519.3"/>
<use href="#c" x="1617.9" y="520.5"/>
<use href="#c" x="1612.7" y="521.6"/>
<use href="#c" x="1607.5" y="522.8"/>
<use href="#c" x="1602.4" y="523.9"/>
<use href="#c" x="1597.2" y="525.1"/>
<use href="#c" x="1592" y="526.2"/>
<use href="#c" x="1586.8" y="527.4"/>
<use href="#c" x="1581.7" y="528.6"/>
<use href="#c" x="1576.5" y="529.8"/>
<use href="#c" x="1571.3" y="530.9"/>
<use href="#c" x="1566.2" y="532.1"/>
<use href="#c" x="1561" y="533.4"/>
<use href="#c" x="1555.8" y="534.6"/>
<use href="#c" x="1550.6" y="535.8"/>
<use href="#c" x="1545.5" y="537"/>
<use href="#c" x="1540.3" y="538.2"/>
<use href="#c" x="1535.1" y="539.4"/>
<use href="#c" x="1529.9" y="540.7"/>
<use href="#c" x="1524.8" y="541.9"/>
<use href="#c" x="1519.6" y="543.1"/>
<use href="#c" x="1514.4" y="544.4"/>
<use href="#c" x="1509.3" y="545.6"/>
<use href="#c" x="1504.1" y="546.8"/>
<use href="#c" x="1498.9" y="548.1"/>
<use href="#c" x="1493.7" y="549.3"/>
<use href="#c" x="1488.6" y="550.6"/>
<use href="#c" x="1483.4" y="551.8"/>
<use href="#c" x="1478.2" y="553"/>
<use href="#c" x="1473.1" y="554.2"/>
<use href="#c" x="1467.9" y="555.5"/>
<use href="#c" x="1462.7" y="556.7"/>
<use href="#c" x="1457.5" y="557.9"/>
<use href="#c" x="1452.4" y="559.2"/>
<use href="#c" x="1447.2" y="560.4"/>
<use href="#c" x="1442" y="561.7"/>
<use href="#c" x="1436.8" y="562.9"/>
<use href="#c" x="1431.7" y="564.2"/>
<use href="#c" x="1426.5" y="565.6"/>
<use href="#c" x="1421.3" y="566.9"/>
<use href="#c" x="1416.2" y="568.2"/>
<use href="#c" x="1411" y="569.6"/>
<use href="#c" x="1405.8" y="570.9"/>
<use href="#c" x="1400.6" y="572.2"/>
<use href="#c" x="1395.5" y="573.5"/>
<use href="#c" x="1390.3" y="574.7"/>
<use href="#c" x="1385.1" y="575.9"/>
<use href="#c" x="1379.9" y="577"/>
<use href="#c" x="1374.8" y="578.2"/>
<use href="#c" x="1369.6" y="579.5"/>
<use href="#c" x="1364.4" y="580.8"/>
<use href="#c" x="1359.3" y="582.2"/>
<use href="#c" x="1354.1" y="583.6"/>
<use href="#c" x="1348.9" y="585.2"/>
<use href="#c" x="1343.7" y="586.9"/>
<use href="#c" x="1338.6" y="588.9"/>
<use href="#c" x="1333.4" y="591.4"/>
<use href="#c" x="1328.2" y="594.8"/>
<use href="#c" x="1323.1" y="599.3"/>
<use href="#c" x="1317.9" y="604.2"/>
<use href="#c" x="1312.7" y="609"/>
<use href="#c" x="1307.5" y="613.1"/>
<use href="#c" x="1302.4" y="618.4"/>
<use href="#c" x="1297.2" y="624.2"/>
<use href="#c" x="1292" y="630.1"/>
<use href="#c" x="1286.8" y="637.3"/>
<use href="#c" x="1281.7" y="650.1"/>
<use href="#c" x="1276.5" y="671.8"/>
<use href="#c" x="1271.3" y="719.7"/>
<use href="#c" x="1266.2" y="749.9"/>
<use href="#c" x="1261" y="761"/>
<use href="#c" x="1255.8" y="768.9"/>
<use href="#c" x="1250.6" y="774.7"/>
<use href="#c" x="1245.5" y="779.6"/>
<use href="#c" x="1240.3" y="784.8"/>
<use href="#c" x="1235.1" y="791.1"/>
<use href="#c" x="1229.9" y="797.5"/>
<use href="#c" x="1224.8" y="803.6"/>
<use href="#c" x="1219.6" y="809.7"/>
<use href="#c" x="1214.4" y="815.8"/>
<use href="#c" x="1209.3" y="822"/>
<use href="#c" x="1204.1" y="828.3"/>
<use href="#c" x="1198.9" y="834.9"/>
<use href="#c" x="1193.7" y="841.9"/>
<use href="#c" x="1188.6" y="849.3"/>
<use href="#c" x="1183.4" y="856.6"/>
<use href="#c" x="1178.2" y="864.1"/>
<use href="#c" x="1173.1" y="871.8"/>
<use href="#c" x="1167.9" y="879.6"/>
<use href="#c" x="1162.7" y="887.2"/>
<use href="#c" x="1157.5" y="894.5"/>
<use href="#c" x="1152.4" y="901.2"/>
<use href="#c" x="1147.2" y="907.3"/>
<use href="#c" x="1142" y="912.7"/>
<use href="#c" x="1136.8" y="917.9"/>
<use href="#c" x="1131.7" y="922.7"/>
<use href="#c" x="1126.5" y="927.2"/>
<use href="#c" x="1121.3" y="931.5"/>
<use href="#c" x="1116.2" y="935.7"/>
<use href="#c" x="1111" y="939.6"/>
<use href="#c" x="1105.8" y="943.5"/>
<use href="#c" x="1100.6" y="947.1"/>
<use href="#c" x="1095.5" y="950.5"/>
<use href="#c" x="1090.3" y="953.9"/>
<use href="#c" x="1085.1" y="957.1"/>
<use href="#c" x="1079.9" y="960.2"/>
<use href="#c" x="1074.8" y="963.3"/>
<use href="#c" x="1069.6" y="966.4"/>
<use href="#c" x="1064.4" y="969.5"/>
<use href="#c" x="1059.3" y="972.7"/>
<use href="#c" x="1054.1" y="975.9"/>
<use href="#c" x="1048.9" y="979.1"/>
<use href="#c" x="1043.7" y="982.4"/>
<use href="#c" x="1038.6" y="985.7"/>
<use href="#c" x="1033.4" y="988.9"/>
<use href="#c" x="1028.2" y="992.2"/>
<use href="#c" x="1023.1" y="995.4"/>
<use href="#c" x="1017.9" y="998.7"/>
<use href="#c" x="1012.7" y="1001.9"/>
<use href="#c" x="1007.5" y="1005.1"/>
<use href="#c" x="1002.4" y="1008.2"/>
<use href="#c" x="997.2" y="1011.3"/>
<use href="#c" x="992" y="1014.4"/>
<use href="#c" x="986.8" y="1017.4"/>
<use href="#c" x="981.7" y="1020.3"/>
<use href="#c" x="976.5" y="1023.2"/>
<use href="#c" x="971.3" y="1026.2"/>
<use href="#c" x="966.2" y="1029.1"/>
<use href="#c" x="961" y="1032"/>
<use href="#c" x="955.8" y="1035"/>
<use href="#c" x="950.6" y="1038"/>
<use href="#c" x="945.5" y="1041.1"/>
<use href="#c" x="940.3" y="1044.3"/>
<use href="#c" x="935.1" y="1047.5"/>
<use href="#c" x="929.9" y="1050.8"/>
<use href="#c" x="924.8" y="1054.1"/>
<use href="#c" x="919.6" y="1057.4"/>
<use href="#c" x="914.4" y="1060.8"/>
<use href="#c" x="909.3" y="1064.2"/>
<use href="#c" x="904.1" y="1067.7"/>
<use href="#c" x="898.9" y="1071.2"/>
<use href="#c" x="893.7" y="1074.7"/>
<use href="#c" x="888.6" y="1078.2"/>
<use href="#c" x="883.4" y="1081.8"/>
<use href="#c" x="878.2" y="1085.6"/>
<use href="#c" x="873.1" y="1089.4"/>
<use href="#c" x="867.9" y="1093.3"/>
<use href="#c" x="862.7" y="1097.3"/>
<use href="#c" x="857.5" y="1101.2"/>
<use href="#c" x="852.4" y="1105.2"/>
<use href="#c" x="847.2" y="1109.1"/>
<use href="#c" x="842" y="1113"/>
<use href="#c" x="836.8" y="1116.7"/>
<use href="#c" x="831.7" y="1120.3"/>
<use href="#c" x="826.5" y="1123.8"/>
<use href="#c" x="821.3" y="1127"/>
<use href="#c" x="816.2" y="1130.1"/>
<use href="#c" x="811" y="1133.1"/>
<use href="#c" x="805.8" y="1136"/>
<use href="#c" x="800.6" y="1138.9"/>
<use href="#c" x="795.5" y="1141.7"/>
<use href="#c" x="790.3" y="1144.4"/>
<use href="#c" x="785.1" y="1147.1"/>
<use href="#c" x="779.9" y="1149.7"/>
<use href="#c" x="774.8" y="1152.3"/>
<use href="#c" x="769.6" y="1154.8"/>
<use href="#c" x="764.4" y="1157.3"/>
<use href="#c" x="759.3" y="1159.7"/>
<use href="#c" x="754.1" y="1162.1"/>
<use href="#c" x="748.9" y="1164.5"/>
<use href="#c" x="743.7" y="1166.9"/>
<use href="#c" x="738.6" y="1169.3"/>
<use href="#c" x="733.4" y="1171.6"/>
<use href="#c" x="728.2" y="1174"/>
<use href="#c" x="723.1" y="1176.3"/>
<use href="#c" x="717.9" y="1178.6"/>
<use href="#c" x="712.7" y="1180.9"/>
<use href="#c" x="707.5" y="1183.2"/>
<use href="#c" x="702.4" y="1185.5"/>
<use href="#c" x="697.2" y="1187.7"/>
<use href="#c" x="692" y="1189.9"/>
<use href="#c" x="686.8" y="1192.1"/>
<use href="#c" x="681.7" y="1194.2"/>
<use href="#c" x="676.5" y="1196.3"/>
<use href="#c" x="671.3" y="1198.5"/>
<use href="#c" x="666.2" y="1200.5"/>
<use href="#c" x="661" y="1202.6"/>
<use href="#c" x="655.8" y="1204.6"/>
<use href="#c" x="650.6" y="1206.7"/>
<use href="#c" x="645.5" y="1208.6"/>
<use href="#c" x="640.3" y="1210.6"/>
<use href="#c" x="635.1" y="1212.6"/>
<use href="#c" x="630" y="1214.5"/>
<use href="#c" x="624.8" y="1216.4"/>
<use href="#c" x="619.6" y="1218.2"/>
<use href="#c" x="614.4" y="1220.1"/>
<use href="#c" x="609.3" y="1221.9"/>
<use href="#c" x="604.1" y="1223.7"/>
<use href="#c" x="598.9" y="1225.5"/>
<use href="#c" x="593.7" y="1227.2"/>
<use href="#c" x="588.6" y="1229"/>
<use href="#c" x="583.4" y="1230.7"/>
<use href="#c" x="578.2" y="1232.4"/>
<use href="#c" x="573.1" y="1234.1"/>
<use href="#c" x="567.9" y="1235.8"/>
<use href="#c" x="562.7" y="1237.5"/>
<use href="#c" x="557.5" y="1239.2"/>
<use href="#c" x="552.4" y="1240.9"/>
<use href="#c" x="547.2" y="1242.6"/>
<use href="#c" x="542" y="1244.3"/>
<use href="#c" x="536.8" y="1246"/>
<use href="#c" x="531.7" y="1247.7"/>
<use href="#c" x="526.5" y="1249.4"/>
<use href="#c" x="521.3" y="1251"/>
<use href="#c" x="516.2" y="1252.7"/>
<use href="#c" x="511" y="1254.3"/>
<use href="#c" x="505.8" y="1255.9"/>
<use href="#c" x="500.6" y="1257.6"/>
<use href="#c" x="500.6" y="1257.6"/>
<use href="#c" x="505.8" y="1256.4"/>
<use href="#c" x="511" y="1255.3"/>
<use href="#c" x="516.2" y="1254.2"/>
<use href="#c" x="521.3" y="1253.1"/>
<use href="#c" x="526.5" y="1251.9"/>
<use href="#c" x="531.7" y="1250.8"/>
<use href="#c" x="536.8" y="1249.6"/>
<use href="#c" x="542" y="1248.5"/>
<use href="#c" x="547.2" y="1247.4"/>
<use href="#c" x="552.4" y="1246.2"/>
<use href="#c" x="557.5" y="1245.1"/>
<use href="#c" x="562.7" y="1243.9"/>
<use href="#c" x="567.9" y="1242.7"/>
<use href="#c" x="573.1" y="1241.6"/>
<use href="#c" x="578.2" y="1240.4"/>
<use href="#c" x="583.4" y="1239.2"/>
<use href="#c" x="588.6" y="1238.1"/>
<use href="#c" x="593.7" y="1236.9"/>
<use href="#c" x="598.9" y="1235.7"/>
<use href="#c" x="604.1" y="1234.5"/>
<use href="#c" x="609.3" y="1233.3"/>
<use href="#c" x="614.4" y="1232.1"/>
<use href="#c" x="619.6" y="1230.9"/>
<use href="#c" x="624.8" y="1229.7"/>
<use href="#c" x="630" y="1228.5"/>
<use href="#c" x="635.1" y="1227.3"/>
<use href="#c" x="640.3" y="1226.1"/>
<use href="#c" x="645.5" y="1224.9"/>
<use href="#c" x="650.6" y="1223.7"/>
<use href="#c" x="655.8" y="1222.5"/>
<use href="#c" x="661" y="1221.2"/>
<use href="#c" x="666.2" y="1220"/>
<use href="#c" x="671.3" y="1218.7"/>
<use href="#c" x="676.5" y="1217.5"/>
<use href="#c" x="681.7" y="1216.3"/>
<use href="#c" x="686.8" y="1215"/>
<use href="#c" x="692" y="1213.8"/>
<use href="#c" x="697.2" y="1212.5"/>
<use href="#c" x="702.4" y="1211.2"/>
<use href="#c" x="707.5" y="1210"/>
<use href="#c" x="712.7" y="1208.7"/>
<use href="#c" x="717.9" y="1207.5"/>
<use href="#c" x="723.1" y="1206.2"/>
<use href="#c" x="728.2" y="1204.9"/>
<use href="#c" x="733.4" y="1203.7"/>
<use href="#c" x="738.6" y="1202.4"/>
<use href="#c" x="743.7" y="1201.2"/>
<use href="#c" x="748.9" y="1199.9"/>
<use href="#c" x="754.1" y="1198.6"/>
<use href="#c" x="759.3" y="1197.4"/>
<use href="#c" x="764.4" y="1196.1"/>
<use href="#c" x="769.6" y="1194.8"/>
<use href="#c" x="774.8" y="1193.6"/>
<use href="#c" x="779.9" y="1192.3"/>
<use href="#c" x="785.1" y="1191"/>
<use href="#c" x="790.3" y="1189.8"/>
<use href="#c" x="795.5" y="1188.5"/>
<use href="#c" x="800.6" y="1187.2"/>
<use href="#c" x="805.8" y="1185.9"/>
<use href="#c" x="811" y="1184.6"/>
<use href="#c" x="816.2" y="1183.4"/>
<use href="#c" x="821.3" y="1182.1"/>
<use href="#c" x="826.5" y="1180.8"/>
<use href="#c" x="831.7" y="1179.5"/>
<use href="#c" x="836.8" y="1178.2"/>
<use href="#c" x="842" y="1177"/>
<use href="#c" x="847.2" y="1175.7"/>
<use href="#c" x="852.4" y="1174.4"/>
<use href="#c" x="857.5" y="1173.1"/>
<use href="#c" x="862.7" y="1171.8"/>
<use href="#c" x="867.9" y="1170.5"/>
<use href="#c" x="873.1" y="1169.3"/>
<use href="#c" x="878.2" y="1168"/>
<use href="#c" x="883.4" y="1166.7"/>
<use href="#c" x="888.6" y="1165.4"/>
<use href="#c" x="893.7" y="1164.2"/>
<use href="#c" x="898.9" y="1162.9"/>
<use href="#c" x="904.1" y="1161.6"/>
<use href="#c" x="909.3" y="1160.4"/>
<use href="#c" x="914.4" y="1159.1"/>
<use href="#c" x="919.6" y="1157.8"/>
<use href="#c" x="924.8" y="1156.6"/>
<use href="#c" x="929.9" y="1155.3"/>
<use href="#c" x="935.1" y="1154.1"/>
<use href="#c" x="940.3" y="1152.8"/>
<use href="#c" x="945.5" y="1151.6"/>
<use href="#c" x="950.6" y="1150.3"/>
<use href="#c" x="955.8" y="1149.1"/>
<use href="#c" x="961" y="1147.8"/>
<use href="#c" x="966.2" y="1146.6"/>
<use href="#c" x="971.3" y="1145.3"/>
<use href="#c" x="976.5" y="1144.1"/>
<use href="#c" x="981.7" y="1142.9"/>
<use href="#c" x="986.8" y="1141.6"/>
<use href="#c" x="992" y="1140.4"/>
<use href="#c" x="997.2" y="1139.1"/>
<use href="#c" x="1002.4" y="1137.8"/>
<use href="#c" x="1007.5" y="1136.6"/>
<use href="#c" x="1012.7" y="1135.3"/>
<use href="#c" x="1017.9" y="1134.1"/>
<use href="#c" x="1023.1" y="1132.8"/>
<use href="#c" x="1028.2" y="1131.5"/>
<use href="#c" x="1033.4" y="1130.3"/>
<use href="#c" x="1038.6" y="1129"/>
<use href="#c" x="1043.7" y="1127.7"/>
<use href="#c" x="1048.9" y="1126.5"/>
<use href="#c" x="1054.1" y="1125.2"/>
<use href="#c" x="1059.3" y="1123.9"/>
<use href="#c" x="1064.4" y="1122.6"/>
<use href="#c" x="1069.6" y="1121.4"/>
<use href="#c" x="1074.8" y="1120.1"/>
<use href="#c" x="1079.9" y="1118.8"/>
<use href="#c" x="1085.1" y="1117.5"/>
<use href="#c" x="1090.3" y="1116.2"/>
<use href="#c" x="1095.5" y="1114.9"/>
<use href="#c" x="1100.6" y="1113.6"/>
<use href="#c" x="1105.8" y="1112.3"/>
<use href="#c" x="1111" y="1111"/>
<use href="#c" x="1116.2" y="1109.6"/>
<use href="#c" x="1121.3" y="1108.3"/>
<use href="#c" x="1126.5" y="1107"/>
<use href="#c" x="1131.7" y="1105.6"/>
<use href="#c" x="1136.8" y="1104.3"/>
<use href="#c" x="1142" y="1102.9"/>
<use href="#c" x="1147.2" y="1101.5"/>
<use href="#c" x="1152.4" y="1100.1"/>
<use href="#c" x="1157.5" y="1098.6"/>
<use href="#c" x="1162.7" y="1097.2"/>
<use href="#c" x="1167.9" y="1095.7"/>
<use href="#c" x="1173.1" y="1094.2"/>
<use href="#c" x="1178.2" y="1092.7"/>
<use href="#c" x="1183.4" y="1091.2"/>
<use href="#c" x="1188.6" y="1089.6"/>
<use href="#c" x="1193.7" y="1088.1"/>
<use href="#c" x="1198.9" y="1086.6"/>
<use href="#c" x="1204.1" y="1085.1"/>
<use href="#c" x="1209.3" y="1083.4"/>
<use href="#c" x="1214.4" y="1081.5"/>
<use href="#c" x="1219.6" y="1079.3"/>
<use href="#c" x="1224.8" y="1076.6"/>
<use href="#c" x="1229.9" y="1073.1"/>
<use href="#c" x="1235.1" y="1069.4"/>
<use href="#c" x="1240.3" y="1065.5"/>
<use href="#c" x="1245.5" y="1061.2"/>
<use href="#c" x="1250.6" y="1056.1"/>
<use href="#c" x="1255.8" y="1050.7"/>
<use href="#c" x="1261" y="1045"/>
<use href="#c" x="1266.2" y="1038.2"/>
<use href="#c" x="1271.3" y="1026.1"/>
<use href="#c" x="1276.5" y="1001.6"/>
<use href="#c" x="1281.7" y="950.3"/>
<use href="#c" x="1286.8" y="924.2"/>
<use href="#c" x="1292" y="912.2"/>
<use href="#c" x="1297.2" y="902.8"/>
<use href="#c" x="1302.4" y="896.2"/>
<use href="#c" x="1307.5" y="889.6"/>
<use href="#c" x="1312.7" y="885.3"/>
<use href="#c" x="1317.9" y="880"/>
<use href="#c" x="1323.1" y="874.7"/>
<use href="#c" x="1328.2" y="869.4"/>
<use href="#c" x="1333.4" y="864.1"/>
<use href="#c" x="1338.6" y="858.8"/>
<use href="#c" x="1343.7" y="853.2"/>
<use href="#c" x="1348.9" y="847.3"/>
<use href="#c" x="1354.1" y="841.1"/>
<use href="#c" x="1359.3" y="834.3"/>
<use href="#c" x="1364.4" y="826.6"/>
<use href="#c" x="1369.6" y="819"/>
<use href="#c" x="1374.8" y="811.6"/>
<use href="#c" x="1379.9" y="804"/>
<use href="#c" x="1385.1" y="796.4"/>
<use href="#c" x="1390.3" y="788.9"/>
<use href="#c" x="1395.5" y="781.7"/>
<use href="#c" x="1400.6" y="775"/>
<use href="#c" x="1405.8" y="769"/>
<use href="#c" x="1411" y="763.4"/>
<use href="#c" x="1416.2" y="758.2"/>
<use href="#c" x="1421.3" y="753.3"/>
<use href="#c" x="1426.5" y="748.6"/>
<use href="#c" x="1431.7" y="744.1"/>
<use href="#c" x="1436.8" y="739.8"/>
<use href="#c" x="1442" y="735.7"/>
<use href="#c" x="1447.2" y="731.7"/>
<use href="#c" x="1452.4" y="727.9"/>
<use href="#c" x="1457.5" y="724.3"/>
<use href="#c" x="1462.7" y="720.8"/>
<use href="#c" x="1467.9" y="717.4"/>
<use href="#c" x="1473.1" y="714"/>
<use href="#c" x="1478.2" y="710.8"/>
<use href="#c" x="1483.4" y="707.6"/>
<use href="#c" x="1488.6" y="704.3"/>
<use href="#c" x="1493.7" y="701.1"/>
<use href="#c" x="1498.9" y="697.9"/>
<use href="#c" x="1504.1" y="694.6"/>
<use href="#c" x="1509.3" y="691.4"/>
<use href="#c" x="1514.4" y="688.2"/>
<use href="#c" x="1519.6" y="685"/>
<use href="#c" x="1524.8" y="681.9"/>
<use href="#c" x="1529.9" y="678.7"/>
<use href="#c" x="1535.1" y="675.6"/>
<use href="#c" x="1540.3" y="672.6"/>
<use href="#c" x="1545.5" y="669.5"/>
<use href="#c" x="1550.6" y="666.4"/>
<use href="#c" x="1555.8" y="663.4"/>
<use href="#c" x="1561" y="660.4"/>
<use href="#c" x="1566.2" y="657.5"/>
<use href="#c" x="1571.3" y="654.7"/>
<use href="#c" x="1576.5" y="651.8"/>
<use href="#c" x="1581.7" y="649"/>
<use href="#c" x="1586.8" y="646.2"/>
<use href="#c" x="1592" y="643.3"/>
<use href="#c" x="1597.2" y="640.3"/>
<use href="#c" x="1602.4" y="637.3"/>
<use href="#c" x="1607.5" y="634.2"/>
<use href="#c" x="1612.7" y="631"/>
<use href="#c" x="1617.9" y="627.6"/>
<use href="#c" x="1623.1" y="624.2"/>
<use href="#c" x="1628.2" y="620.7"/>
<use href="#c" x="1633.4" y="617.1"/>
<use href="#c" x="1638.6" y="613.5"/>
<use href="#c" x="1643.7" y="609.8"/>
<use href="#c" x="1648.9" y="606.1"/>
<use href="#c" x="1654.1" y="602.4"/>
<use href="#c" x="1659.3" y="598.7"/>
<use href="#c" x="1664.4" y="595"/>
<use href="#c" x="1669.6" y="591.3"/>
<use href="#c" x="1674.8" y="587.5"/>
<use href="#c" x="1679.9" y="583.7"/>
<use href="#c" x="1685.1" y="579.9"/>
<use href="#c" x="1690.3" y="576.1"/>
<use href="#c" x="1695.5" y="572.4"/>
<use href="#c" x="1700.6" y="568.8"/>
<use href="#c" x="1705.8" y="565.3"/>
<use href="#c" x="1711" y="561.8"/>
<use href="#c" x="1716.2" y="558.4"/>
<use href="#c" x="1721.3" y="555"/>
<use href="#c" x="1726.5" y="551.8"/>
<use href="#c" x="1731.7" y="548.6"/>
<use href="#c" x="1736.8" y="545.6"/>
<use href="#c" x="1742" y="542.7"/>
<use href="#c" x="1747.2" y="539.8"/>
<use href="#c" x="1752.4" y="537"/>
<use href="#c" x="1757.5" y="534.2"/>
<use href="#c" x="1762.7" y="531.5"/>
<use href="#c" x="1767.9" y="528.8"/>
<use href="#c" x="1773.1" y="526.2"/>
<use href="#c" x="1778.2" y="523.6"/>
<use href="#c" x="1783.4" y="521"/>
<use href="#c" x="1788.6" y="518.5"/>
<use href="#c" x="1793.7" y="516"/>
<use href="#c" x="1798.9" y="513.5"/>
<use href="#c" x="1804.1" y="511.1"/>
<use href="#c" x="1809.3" y="508.7"/>
<use href="#c" x="1814.4" y="506.4"/>
<use href="#c" x="1819.6" y="504"/>
<use href="#c" x="1824.8" y="501.7"/>
<use href="#c" x="1829.9" y="499.4"/>
<use href="#c" x="1835.1" y="497.1"/>
<use href="#c" x="1840.3" y="494.8"/>
<use href="#c" x="1845.5" y="492.6"/>
<use href="#c" x="1850.6" y="490.3"/>
<use href="#c" x="1855.8" y="488.1"/>
<use href="#c" x="1861" y="485.9"/>
<use href="#c" x="1866.2" y="483.7"/>
<use href="#c" x="1871.3" y="481.5"/>
<use href="#c" x="1876.5" y="479.3"/>
<use href="#c" x="1881.7" y="477.2"/>
<use href="#c" x="1886.8" y="475"/>
<use href="#c" x="1892" y="472.9"/>
<use href="#c" x="1897.2" y="470.8"/>
<use href="#c" x="1902.4" y="468.7"/>
<use href="#c" x="1907.5" y="466.6"/>
<use href="#c" x="1912.7" y="464.6"/>
<use href="#c" x="1917.9" y="462.5"/>
<use href="#c" x="1923" y="460.5"/>
<use href="#c" x="1928.2" y="458.4"/>
<use href="#c" x="1933.4" y="456.3"/>
<use href="#c" x="1938.6" y="454.2"/>
<use href="#c" x="1943.7" y="452.1"/>
<use href="#c" x="1948.9" y="450"/>
<use href="#c" x="1954.1" y="447.9"/>
<use href="#c" x="1959.3" y="445.9"/>
<use href="#c" x="1964.4" y="443.8"/>
<use href="#c" x="1969.6" y="441.8"/>
<use href="#c" x="1974.8" y="439.9"/>
<use href="#c" x="1979.9" y="438"/>
<use href="#c" x="1985.1" y="436.1"/>
<use href="#c" x="1990.3" y="434.4"/>
<use href="#c" x="1995.5" y="432.7"/>
<use href="#c" x="2000.6" y="431"/>
<use href="#c" x="2005.8" y="429.5"/>
<use href="#c" x="2011" y="428.1"/>
<use href="#c" x="2016.2" y="426.7"/>
<use href="#c" x="2021.3" y="425.4"/>
<use href="#c" x="2026.5" y="424.2"/>
<use href="#c" x="2031.7" y="423"/>
<use href="#c" x="2036.8" y="421.9"/>
<use href="#c" x="2042" y="420.8"/>
<use href="#c" x="2047.2" y="419.8"/>
<use href="#c" x="2052.4" y="418.9"/>
</g>
</svg></body></html>
